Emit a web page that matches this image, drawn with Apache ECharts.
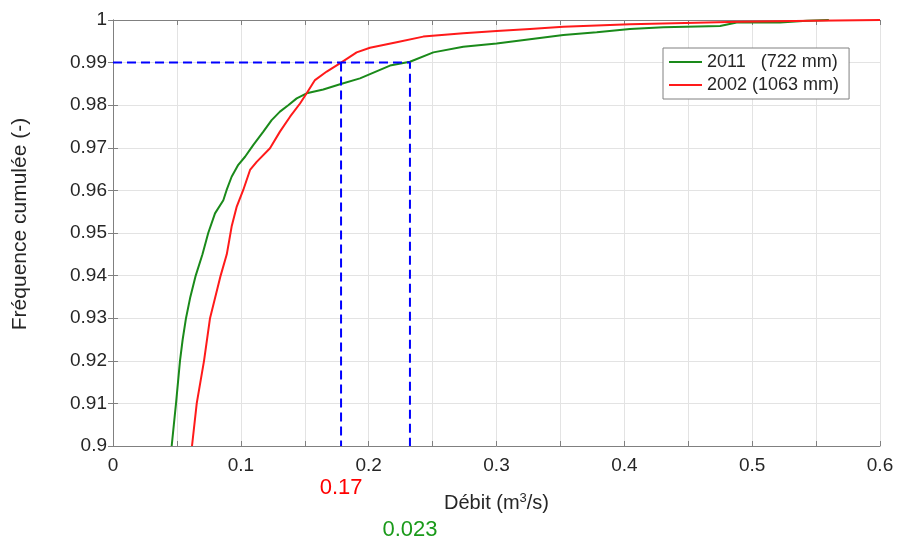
<!DOCTYPE html>
<html>
<head>
<meta charset="utf-8">
<script src="https://cdn.jsdelivr.net/npm/echarts@6/dist/echarts.min.js"></script>
<style>html,body{margin:0;padding:0;background:#fff}#c{width:905px;height:543px}</style>
</head>
<body>
<div id="c"></div>
<script>
// Data
const seriesNames = ['2011   (722 mm)', '2002 (1063 mm)'];
const green2011 = [
  [0.0459,0.900],[0.0476,0.905],[0.0493,0.910],[0.0524,0.920],[0.0545,0.925],[0.0571,0.930],
  [0.0605,0.935],[0.0647,0.940],[0.0700,0.945],[0.0745,0.950],[0.0798,0.9546],[0.0863,0.9577],
  [0.0889,0.9601],[0.0928,0.9632],[0.0980,0.9660],[0.1033,0.9679],[0.1098,0.9707],[0.1176,0.9738],
  [0.1241,0.9765],[0.1306,0.9785],[0.1371,0.9800],[0.1437,0.9816],[0.1515,0.9828],[0.1645,0.9837],
  [0.1776,0.9849],[0.1932,0.9863],[0.2167,0.9893],[0.2323,0.9902],[0.2506,0.9924],[0.2740,0.9937],
  [0.3001,0.9945],[0.3262,0.9955],[0.3523,0.9965],[0.3784,0.9971],[0.4044,0.9979],[0.4305,0.9983],
  [0.4749,0.9986],[0.4879,0.9994],[0.5218,0.9994],[0.5427,0.9998],[0.5600,1.0]
];
const red2002 = [
  [0.0618,0.900],[0.0655,0.910],[0.0712,0.920],[0.0759,0.930],[0.0842,0.940],[0.0890,0.945],
  [0.0910,0.9484],[0.0928,0.9515],[0.0968,0.9562],[0.1019,0.9601],[0.1072,0.9648],[0.1124,0.9667],
  [0.1228,0.9699],[0.1306,0.9738],[0.1385,0.9773],[0.1463,0.9804],[0.1515,0.9828],[0.1580,0.9859],
  [0.1672,0.9879],[0.1784,0.9900],[0.1906,0.9924],[0.2010,0.9935],[0.2219,0.9948],[0.2427,0.9961],
  [0.2740,0.9969],[0.3001,0.9974],[0.3262,0.9979],[0.3523,0.9984],[0.4044,0.9990],[0.4905,0.9996],
  [0.5476,0.9998],[0.6000,1.0]
];
const refLevel = 0.99;
const q2002 = 0.1784;
const q2011 = 0.2323;
const annotTexts = ['0.17', '0.023'];
const xTicks = [0, 0.1, 0.2, 0.3, 0.4, 0.5, 0.6];

const AX = '#808080', TXT = '#262626', FONT = 'Liberation Sans, Arial, sans-serif';
const chart = echarts.init(document.getElementById('c'));
const axisCommon = {
  axisLine: {show: true, lineStyle: {color: AX, width: 1}},
  axisTick: {show: true, inside: true, length: 5, lineStyle: {color: AX}},
};
const fmt = v => String(parseFloat(v.toFixed(2)));
chart.setOption({
  animation: false,
  backgroundColor: '#fff',
  grid: {left: 113, right: 25, top: 20, bottom: 97},
  legend: {
    orient: 'vertical', left: 663, top: 48,
    data: seriesNames,
    icon: 'rect', itemWidth: 33, itemHeight: 2, itemGap: 3,
    padding: [4, 10, 4, 6],
    backgroundColor: '#fff', borderColor: '#808080', borderWidth: 1, borderRadius: 0,
    textStyle: {fontFamily: FONT, fontSize: 18, color: TXT, lineHeight: 20}
  },
  xAxis: [{
    type: 'value', min: 0, max: 0.6, interval: 0.05, position: 'bottom',
    ...axisCommon,
    axisLabel: {fontFamily: FONT, fontSize: 19, color: TXT, margin: 10,
      formatter: v => { const r = parseFloat(v.toFixed(2)); return xTicks.some(t => Math.abs(t - r) < 1e-9) ? String(r) : ''; }},
    splitLine: {show: true, lineStyle: {color: '#e3e3e3', width: 1}},
    name: 'Débit (m{sup|3}/s)', nameLocation: 'middle', nameGap: 46,
    nameTextStyle: {fontFamily: FONT, fontSize: 20, color: TXT,
      rich: {sup: {fontFamily: FONT, fontSize: 13, color: TXT, verticalAlign: 'top', padding: [0, 0, 10, 0]}}}
  }, {
    type: 'value', min: 0, max: 0.6, interval: 0.05, position: 'top',
    ...axisCommon, axisLabel: {show: false}, splitLine: {show: false}
  }],
  yAxis: [{
    type: 'value', min: 0.9, max: 1, interval: 0.01, position: 'left',
    ...axisCommon,
    axisLabel: {fontFamily: FONT, fontSize: 19, color: TXT, margin: 6, formatter: fmt},
    splitLine: {show: true, lineStyle: {color: '#e3e3e3', width: 1}},
    name: 'Fréquence cumulée (-)', nameLocation: 'middle', nameGap: 82, nameRotate: 90,
    nameTextStyle: {fontFamily: FONT, fontSize: 21, color: TXT, padding: [0, 0, 0, 18]}
  }, {
    type: 'value', min: 0.9, max: 1, interval: 0.01, position: 'right',
    ...axisCommon, axisLabel: {show: false}, splitLine: {show: false}
  }],
  series: [
    {name: seriesNames[0], type: 'line', data: green2011, showSymbol: false, symbol: 'none',
      lineStyle: {color: '#1a8a1a', width: 2}, itemStyle: {color: '#1a8a1a'}, z: 3},
    {name: seriesNames[1], type: 'line', data: red2002, showSymbol: false, symbol: 'none',
      lineStyle: {color: '#ff1a1a', width: 2}, itemStyle: {color: '#ff1a1a'}, z: 4},
    {name: 'ref2011', type: 'line', data: [[0, refLevel], [q2011, refLevel], [q2011, 0.9]],
      showSymbol: false, symbol: 'none', lineStyle: {color: '#0000ff', width: 2, type: [9, 5]}, z: 5},
    {name: 'ref2002', type: 'line', data: [[q2002, refLevel], [q2002, 0.9]],
      showSymbol: false, symbol: 'none', lineStyle: {color: '#0000ff', width: 2, type: [9, 5]}, z: 5}
  ]
});
const p1 = chart.convertToPixel({xAxisIndex: 0, yAxisIndex: 0}, [q2002, 0.9]);
const p2 = chart.convertToPixel({xAxisIndex: 0, yAxisIndex: 0}, [q2011, 0.9]);
chart.setOption({
  graphic: [
    {type: 'text', x: p1[0], y: p1[1] + 42, style: {text: annotTexts[0], fill: '#ff0000',
      font: '22px ' + FONT, align: 'center', verticalAlign: 'middle'}},
    {type: 'text', x: p2[0], y: p2[1] + 84, style: {text: annotTexts[1], fill: '#1a9a1a',
      font: '22px ' + FONT, align: 'center', verticalAlign: 'middle'}}
  ]
});
</script>
</body>
</html>
